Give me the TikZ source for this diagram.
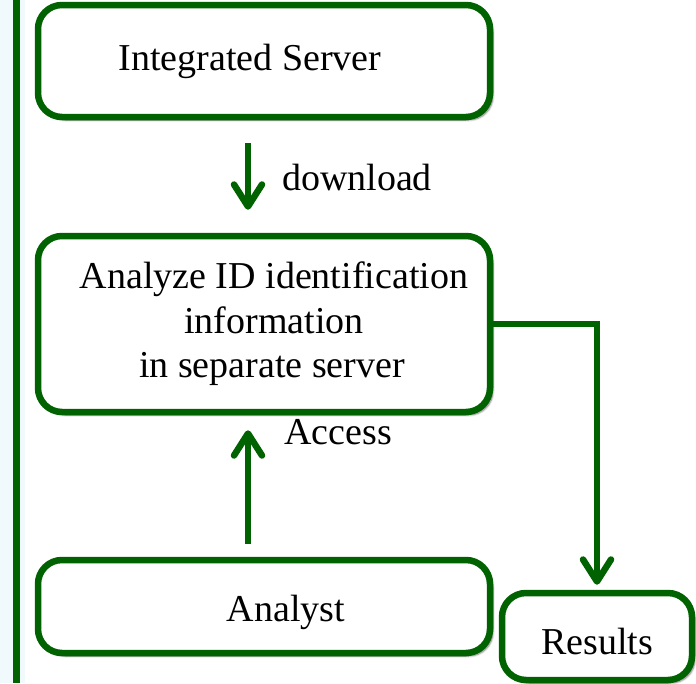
\documentclass[tikz,border=0pt]{standalone}
\usepackage{fontspec}
\setmainfont{Liberation Serif}
\usetikzlibrary{arrows.meta,shadows.blur}
\definecolor{dkgreen}{RGB}{0,98,0}
\definecolor{paleblue}{RGB}{240,249,252}
\tikzset{
  box/.style={draw=dkgreen,line width=6.5pt,rounded corners=24pt,fill=white,
    blur shadow={shadow xshift=3pt,shadow yshift=-3pt,shadow blur steps=6,shadow opacity=55},
    align=center,inner sep=0pt},
  arr/.style={draw=dkgreen,line width=5.5pt,
    -{Straight Barb[length=22pt,width=28pt,line width=6.5pt,round]}}
}
\begin{document}
\begin{tikzpicture}[x=1pt,y=-1pt,font=\fontsize{38}{44.5}\selectfont]
  \useasboundingbox (0,0) rectangle (696,683);
  \fill[paleblue] (0,0) rectangle (25,683);
  \draw[dkgreen,line width=6.5pt] (16.5,0) -- (16.5,683);
  % boxes
  \node[box,minimum width=452pt,minimum height=112pt] (srv) at (264,61)
    {\hspace*{-28pt}Integrated Server};
  \node[box,minimum width=452pt,minimum height=176pt] (sep) at (264,324)
    {\hspace*{20pt}Analyze ID identification\\ \hspace*{20pt}information\\ \hspace*{16pt}in separate server};
  \node[box,minimum width=452pt,minimum height=93pt,text height=38pt,text depth=8pt] (anl) at (264,606.5)
    {\hspace*{44pt}Analyst};
  \node[box,minimum width=190pt,minimum height=87pt,text height=44pt,text depth=8pt] (res) at (597,636.5)
    {Results};
  % connectors
  \draw[arr] ([xshift=-16pt,yshift=-23pt]srv.south) -- ([xshift=-16pt,yshift=23pt]sep.north);
  \node (dl) at (357,177) {download};
  \draw[arr] ([xshift=-16pt,yshift=13pt]anl.north) -- ([xshift=-16pt,yshift=-15pt]sep.south);
  \node (acc) at (338,432) {Access};
  \draw[arr] (sep.east) -| ([yshift=5pt]res.north);
\end{tikzpicture}
\end{document}
